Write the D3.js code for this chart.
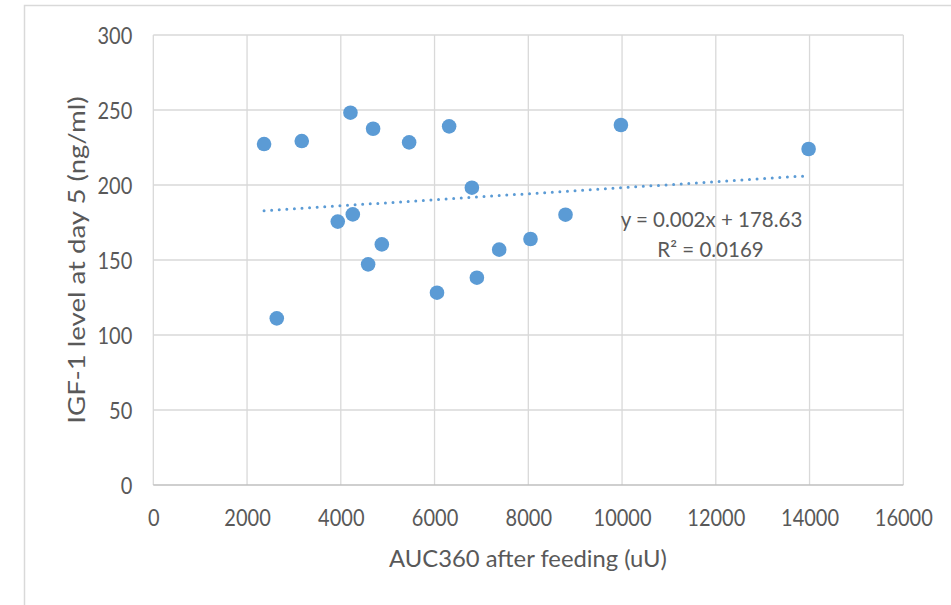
<!DOCTYPE html>
<html>
<head>
<meta charset="utf-8">
<script src="https://cdn.jsdelivr.net/npm/d3@7"></script>
<style>
  html, body { margin: 0; padding: 0; background: #fff; }
  svg { display: block; }
  text { font-family: Lato, "Open Sans", sans-serif; fill: #595959; }
</style>
</head>
<body>
<svg id="chart" width="951" height="605"></svg>
<script>
// ---- data ----
const aucValues = [2363, 2634, 3167, 3935, 4206, 4256, 4583, 4689, 4875, 5458, 6052, 6311, 6796, 6903, 7379, 8047, 8794, 9976, 13980];
const igfValues = [227.3, 111.1, 229.3, 175.6, 248.2, 180.4, 147.1, 237.5, 160.4, 228.4, 128.2, 239.1, 198.2, 138.2, 156.9, 164.0, 180.2, 240.0, 224.0];
const xTicks = [0, 2000, 4000, 6000, 8000, 10000, 12000, 14000, 16000];
const yTicks = [0, 50, 100, 150, 200, 250, 300];
const xTitle = "AUC360 after feeding (uU)";
const yTitle = "IGF-1 level at day 5 (ng/ml)";
const eqLine1 = "y = 0.002x + 178.63";
const eqLine2 = "R² = 0.0169";

const svg = d3.select("#chart");
const plotL = 153.3, plotR = 903.3, plotT = 35, plotB = 485;

// outer chart border
svg.append("rect").attr("x", 24.5).attr("y", 5.5).attr("width", 1000).attr("height", 1000)
  .attr("fill", "none").attr("stroke", "#d9d9d9").attr("stroke-width", 1.5);

const x = d3.scaleLinear().domain([0, 16000]).range([plotL, plotR]);
const y = d3.scaleLinear().domain([0, 300]).range([plotB, plotT]);

// gridlines
const g = svg.append("g");
g.selectAll("line.vg").data(xTicks).join("line").attr("class", "vg")
  .attr("x1", d => x(d)).attr("x2", d => x(d)).attr("y1", plotT).attr("y2", plotB)
  .attr("stroke", "#d9d9d9").attr("stroke-width", 1.3);
g.selectAll("line.hg").data(yTicks).join("line").attr("class", "hg")
  .attr("x1", plotL).attr("x2", plotR).attr("y1", d => y(d)).attr("y2", d => y(d))
  .attr("stroke", d => d === 0 ? "#bfbfbf" : "#d9d9d9").attr("stroke-width", 1.3);

// axes labels via d3 axes
const xAxis = svg.append("g").attr("transform", `translate(0,${plotB})`)
  .call(d3.axisBottom(x).tickValues(xTicks).tickSize(0).tickPadding(0).tickFormat(d3.format("d")));
xAxis.select(".domain").remove();
xAxis.selectAll("text").style("font-size", "20px").attr("fill", "#595959")
  .attr("y", 0).attr("dy", "0.36em").attr("transform", "translate(0,32.5) scale(1,1.15)");

const yAxis = svg.append("g").attr("transform", `translate(${plotL},0)`)
  .call(d3.axisLeft(y).tickValues(yTicks).tickSize(0).tickPadding(21).tickFormat(d3.format("d")));
yAxis.select(".domain").remove();
yAxis.selectAll("text").style("font-size", "20px").attr("fill", "#595959")
  .attr("dy", "0.36em").attr("transform", "scale(1,1.15)");

// trendline (least squares from data)
const n = aucValues.length;
const mx = d3.mean(aucValues), my = d3.mean(igfValues);
let sxy = 0, sxx = 0;
for (let i = 0; i < n; i++) { sxy += (aucValues[i] - mx) * (igfValues[i] - my); sxx += (aucValues[i] - mx) ** 2; }
const slope = sxy / sxx, intercept = my - slope * mx;
const x0 = d3.min(aucValues), x1 = d3.max(aucValues);
svg.append("line")
  .attr("x1", x(x0)).attr("y1", y(intercept + slope * x0))
  .attr("x2", x(x1)).attr("y2", y(intercept + slope * x1))
  .attr("stroke", "#5b9bd5").attr("stroke-width", 3)
  .attr("stroke-linecap", "round").attr("stroke-dasharray", "0 7.6");

// points
const pts = d3.zip(aucValues, igfValues);
svg.append("g").selectAll("circle").data(pts).join("circle")
  .attr("cx", d => x(d[0])).attr("cy", d => y(d[1])).attr("r", 7.3)
  .attr("fill", "#5b9bd5");

// equation
svg.append("text").attr("x", 711.5).attr("y", 226.5).attr("text-anchor", "middle")
  .style("font-size", "20.5px").text(eqLine1);
svg.append("text").attr("x", 710.5).attr("y", 256.5).attr("text-anchor", "middle")
  .style("font-size", "20.5px").text(eqLine2);

// axis titles
svg.append("text").attr("x", 528).attr("y", 567).attr("text-anchor", "middle")
  .style("font-size", "23.8px").text(xTitle);
svg.append("text").attr("transform", "translate(85,260) scale(1,1.2) rotate(-90)").attr("text-anchor", "middle")
  .style("font-size", "23px").text(yTitle);
</script>
</body>
</html>
